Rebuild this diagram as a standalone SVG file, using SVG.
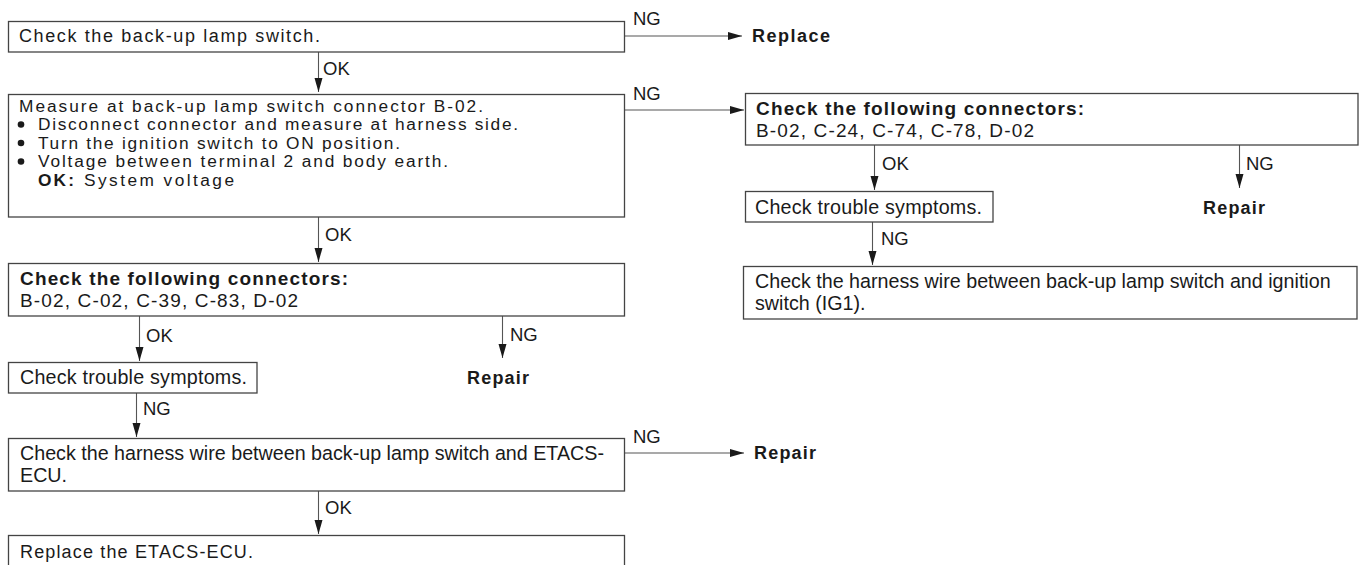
<svg xmlns="http://www.w3.org/2000/svg" width="1365" height="565" viewBox="0 0 1365 565">
<defs>
<marker id="ah" markerUnits="userSpaceOnUse" markerWidth="14" markerHeight="9" refX="14" refY="4.5" orient="auto"><path d="M0,0.5 L14,4.5 L0,8.5 z" fill="#1a1a1a"/></marker>
<style>
.box{fill:#fff;stroke:#444;stroke-width:1.3}
.t{font-family:"Liberation Sans",Arial,Helvetica,sans-serif;fill:#1a1a1a}
.w{font-size:18px}
.s{font-size:17.3px}
.c{font-size:19.7px}
.b{font-weight:bold}
.lbl{font-family:"Liberation Sans",Arial,Helvetica,sans-serif;font-size:18.5px;fill:#1a1a1a}
.con{stroke:#555;stroke-width:1.1;fill:none;marker-end:url(#ah)}
</style>
</defs>
<rect width="1365" height="565" fill="#fff"/>
<g id="connectors">
<line class="con" x1="318.5" y1="52" x2="318.5" y2="92"/>
<line class="con" x1="624.5" y1="36" x2="742" y2="36"/>
<line class="con" x1="624.5" y1="110" x2="744" y2="110"/>
<line class="con" x1="318.5" y1="217" x2="318.5" y2="262"/>
<line class="con" x1="139.5" y1="316" x2="139.5" y2="361"/>
<line class="con" x1="502.5" y1="316" x2="502.5" y2="358"/>
<line class="con" x1="136.5" y1="393" x2="136.5" y2="437"/>
<line class="con" x1="624.5" y1="453" x2="744" y2="453"/>
<line class="con" x1="318.5" y1="491" x2="318.5" y2="534"/>
<line class="con" x1="874.5" y1="145" x2="874.5" y2="190"/>
<line class="con" x1="1239.5" y1="145" x2="1239.5" y2="188"/>
<line class="con" x1="872.5" y1="222" x2="872.5" y2="265"/>
<text class="lbl" x="323" y="75">OK</text>
<text class="lbl" x="633" y="25">NG</text>
<text class="lbl" x="633" y="100">NG</text>
<text class="lbl" x="325" y="241">OK</text>
<text class="lbl" x="146" y="342">OK</text>
<text class="lbl" x="510" y="341">NG</text>
<text class="lbl" x="143" y="415">NG</text>
<text class="lbl" x="633" y="443">NG</text>
<text class="lbl" x="325" y="514">OK</text>
<text class="lbl" x="882" y="170">OK</text>
<text class="lbl" x="1246" y="170">NG</text>
<text class="lbl" x="881" y="245">NG</text>
</g>
<g id="n1">
<rect class="box" x="8.5" y="21.5" width="616" height="30.5"/>
<text class="t w" x="19" y="42" textLength="301">Check the back-up lamp switch.</text>
</g>
<g id="n_replace">
<text class="t w b" x="752" y="42" textLength="78">Replace</text>
</g>
<g id="n2">
<rect class="box" x="8.5" y="94.5" width="616" height="122.5"/>
<text class="t s" x="19" y="111.5" textLength="464">Measure at back-up lamp switch connector B-02.</text>
<circle cx="21" cy="124.5" r="3.3" fill="#1a1a1a"/>
<text class="t s" x="38" y="130" textLength="480">Disconnect connector and measure at harness side.</text>
<circle cx="21" cy="143" r="3.3" fill="#1a1a1a"/>
<text class="t s" x="38" y="148.5" textLength="362">Turn the ignition switch to ON position.</text>
<circle cx="21" cy="161.5" r="3.3" fill="#1a1a1a"/>
<text class="t s" x="38" y="167" textLength="410">Voltage between terminal 2 and body earth.</text>
<text class="t s b" x="38" y="185.5" textLength="36">OK:</text>
<text class="t s" x="84" y="185.5" textLength="150">System voltage</text>
</g>
<g id="n3">
<rect class="box" x="745.5" y="93.5" width="612.5" height="51.5"/>
<text class="t b" style="font-size:19px" x="756" y="115" textLength="328">Check the following connectors:</text>
<text class="t" style="font-size:19px" x="756" y="137" textLength="278">B-02, C-24, C-74, C-78, D-02</text>
</g>
<g id="n4">
<rect class="box" x="8.5" y="263.5" width="616" height="52.5"/>
<text class="t b" style="font-size:19px" x="20" y="285" textLength="328">Check the following connectors:</text>
<text class="t" style="font-size:19px" x="20" y="307" textLength="278">B-02, C-02, C-39, C-83, D-02</text>
</g>
<g id="n5">
<rect class="box" x="745.5" y="191.5" width="247.5" height="30.5"/>
<text class="t c" x="755" y="214" textLength="227">Check trouble symptoms.</text>
</g>
<g id="n_repair_r">
<text class="t w b" x="1203" y="214" textLength="62">Repair</text>
</g>
<g id="n6">
<rect class="box" x="743.5" y="266.5" width="613.5" height="52.5"/>
<text class="t c" x="755" y="288">Check the harness wire between back-up lamp switch and ignition</text>
<text class="t c" x="755" y="310">switch (IG1).</text>
</g>
<g id="n7">
<rect class="box" x="8.5" y="362.5" width="248.5" height="30.5"/>
<text class="t c" x="20" y="384" textLength="227">Check trouble symptoms.</text>
</g>
<g id="n_repair_l">
<text class="t w b" x="467" y="384" textLength="62">Repair</text>
</g>
<g id="n8">
<rect class="box" x="8.5" y="438.5" width="616" height="52.5"/>
<text class="t c" x="20" y="460">Check the harness wire between back-up lamp switch and ETACS-</text>
<text class="t c" x="20" y="482">ECU.</text>
</g>
<g id="n_repair_b">
<text class="t w b" x="754" y="459" textLength="62">Repair</text>
</g>
<g id="n9">
<rect class="box" x="8.5" y="535.5" width="616" height="32"/>
<text class="t w" x="20" y="558" textLength="233">Replace the ETACS-ECU.</text>
</g>
</svg>
